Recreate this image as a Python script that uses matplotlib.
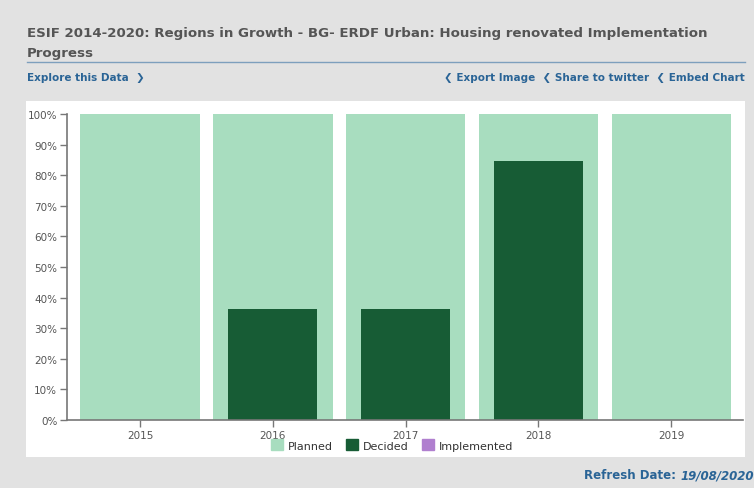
import matplotlib.pyplot as plt
import matplotlib.patches as mpatches
import numpy as np

years = ["2015", "2016", "2017", "2018", "2019"]
planned = [100, 100, 100, 100, 100]
decided = [0, 36.3, 36.3, 84.5, 0]
implemented = [0, 0, 0, 0, 0]

PLANNED_C = "#a8ddbf"
DECIDED_C = "#175c35"
IMPL_C = "#b07fcf"
LINK_C = "#2a6496"
TEXT_C = "#555555"

W, H = 754, 489
fig = plt.figure(figsize=(W / 100, H / 100), dpi=100)
fig.patch.set_facecolor("#e2e2e2")

# white chart panel
fig.add_artist(mpatches.Rectangle((26 / W, 1 - 458 / H), (745 - 26) / W, (458 - 102) / H,
                                  transform=fig.transFigure, facecolor="white",
                                  edgecolor="none", zorder=0))

# header
fig.text(27 / W, 1 - 34 / H,
         "ESIF 2014-2020: Regions in Growth - BG- ERDF Urban: Housing renovated Implementation",
         fontsize=9.6, fontweight="bold", color=TEXT_C, va="center", ha="left")
fig.text(27 / W, 1 - 53 / H, "Progress", fontsize=9.6, fontweight="bold",
         color=TEXT_C, va="center", ha="left")
fig.add_artist(plt.Line2D([27 / W, 745 / W], [1 - 63 / H, 1 - 63 / H],
                          transform=fig.transFigure, color="#7d9fbd", linewidth=1))
fig.text(27 / W, 1 - 78 / H, "Explore this Data  \u276f", fontsize=7.5, fontweight="bold",
         color=LINK_C, va="center", ha="left")
fig.text(745 / W, 1 - 78 / H,
         "\u276e Export Image  \u276e Share to twitter  \u276e Embed Chart",
         fontsize=7.5, fontweight="bold", color=LINK_C, va="center", ha="right")

ax = fig.add_axes([67 / W, 1 - 421 / H, (743 - 67) / W, (421 - 115) / H])
ax.set_facecolor("none")
x = np.arange(len(years))
ax.bar(x, planned, width=0.9, color=PLANNED_C, zorder=1)
ax.bar(x, decided, width=0.67, color=DECIDED_C, zorder=2)
ax.bar(x, implemented, width=0.45, color=IMPL_C, zorder=3)

ax.set_xlim(-0.55, 4.54)
ax.set_ylim(0, 100)
ax.set_xticks(x)
ax.set_xticklabels(years)
ax.set_yticks(np.arange(0, 101, 10))
ax.set_yticklabels([f"{v}%" for v in range(0, 101, 10)])
for s in ["top", "right"]:
    ax.spines[s].set_visible(False)
for s in ["left", "bottom"]:
    ax.spines[s].set_color("#777777")
    ax.spines[s].set_linewidth(1.2)
ax.tick_params(axis="both", colors="#777777", labelcolor=TEXT_C, labelsize=7.5,
               length=5, width=1, pad=2)

handles = [mpatches.Patch(color=PLANNED_C, label="Planned"),
           mpatches.Patch(color=DECIDED_C, label="Decided"),
           mpatches.Patch(color=IMPL_C, label="Implemented")]
fig.legend(handles=handles, loc="center", bbox_to_anchor=(392 / W, 1 - 446 / H),
           ncol=3, frameon=False, fontsize=8, handlelength=1.1, handleheight=1.1,
           handletextpad=0.4, columnspacing=1.2, labelcolor="#333333")

fig.text(754 / W, 1 - 476 / H, "Refresh Date: ", fontsize=8.5, fontweight="bold",
         color=LINK_C, va="center", ha="right")
t = fig.text(754 / W, 1 - 476 / H, "19/08/2020", fontsize=8.5, fontweight="bold",
             style="italic", color=LINK_C, va="center", ha="right")
# place the label before the italic date
fig.canvas.draw()
bb = t.get_window_extent()
fig.texts[-2].set_x(bb.x0 / W)

fig.savefig("out.png", dpi=100, facecolor=fig.get_facecolor())
